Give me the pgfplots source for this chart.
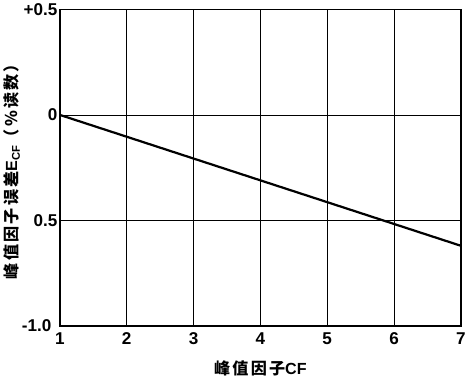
\documentclass[border=0pt]{standalone}
\usepackage{fontspec}
\setmainfont{Liberation Sans}
\newfontfamily\cjk[LetterSpace=14]{Noto Sans CJK SC}
\usepackage{pgfplots}
\pgfplotsset{compat=1.18}
\begin{document}
\begin{tikzpicture}
\begin{axis}[
  scale only axis, width=399pt, height=315pt,
  xmin=1, xmax=7, ymin=-1, ymax=0.5,
  xtick={1,2,3,4,5,6,7},
  ytick={-1,-0.5,0,0.5},
  yticklabels={{-1.0\kern6pt},0.5,0,+0.5},
  major tick length=0pt,
  axis line style={line width=1.2pt},
  xmajorgrids, ymajorgrids,
  grid style={black, line width=0.6pt},
  /pgf/number format/assume math mode=true,
  ticklabel style={font=\fontsize{17}{20}\selectfont\bfseries},
  yticklabel style={xshift=1pt},
  xticklabel style={yshift=-3pt},
  xlabel={{\cjk\bfseries 峰值因子}CF},
  ylabel={{\cjk\bfseries 峰值因子误差}E\textsubscript{CF}{\cjk\bfseries （\%读数）}},
  every axis y label/.style={at={(axis description cs:0,0.5)}, xshift=-48pt, rotate=90, anchor=center, font=\fontsize{16}{19}\selectfont\bfseries},
  every axis x label/.style={at={(axis description cs:0.5,0)}, yshift=-42pt, anchor=center, font=\fontsize{16}{19}\selectfont\bfseries},
]
\addplot[black, line width=2.2pt] coordinates {(1,0) (7,-0.62)};
\end{axis}
\end{tikzpicture}
\end{document}
